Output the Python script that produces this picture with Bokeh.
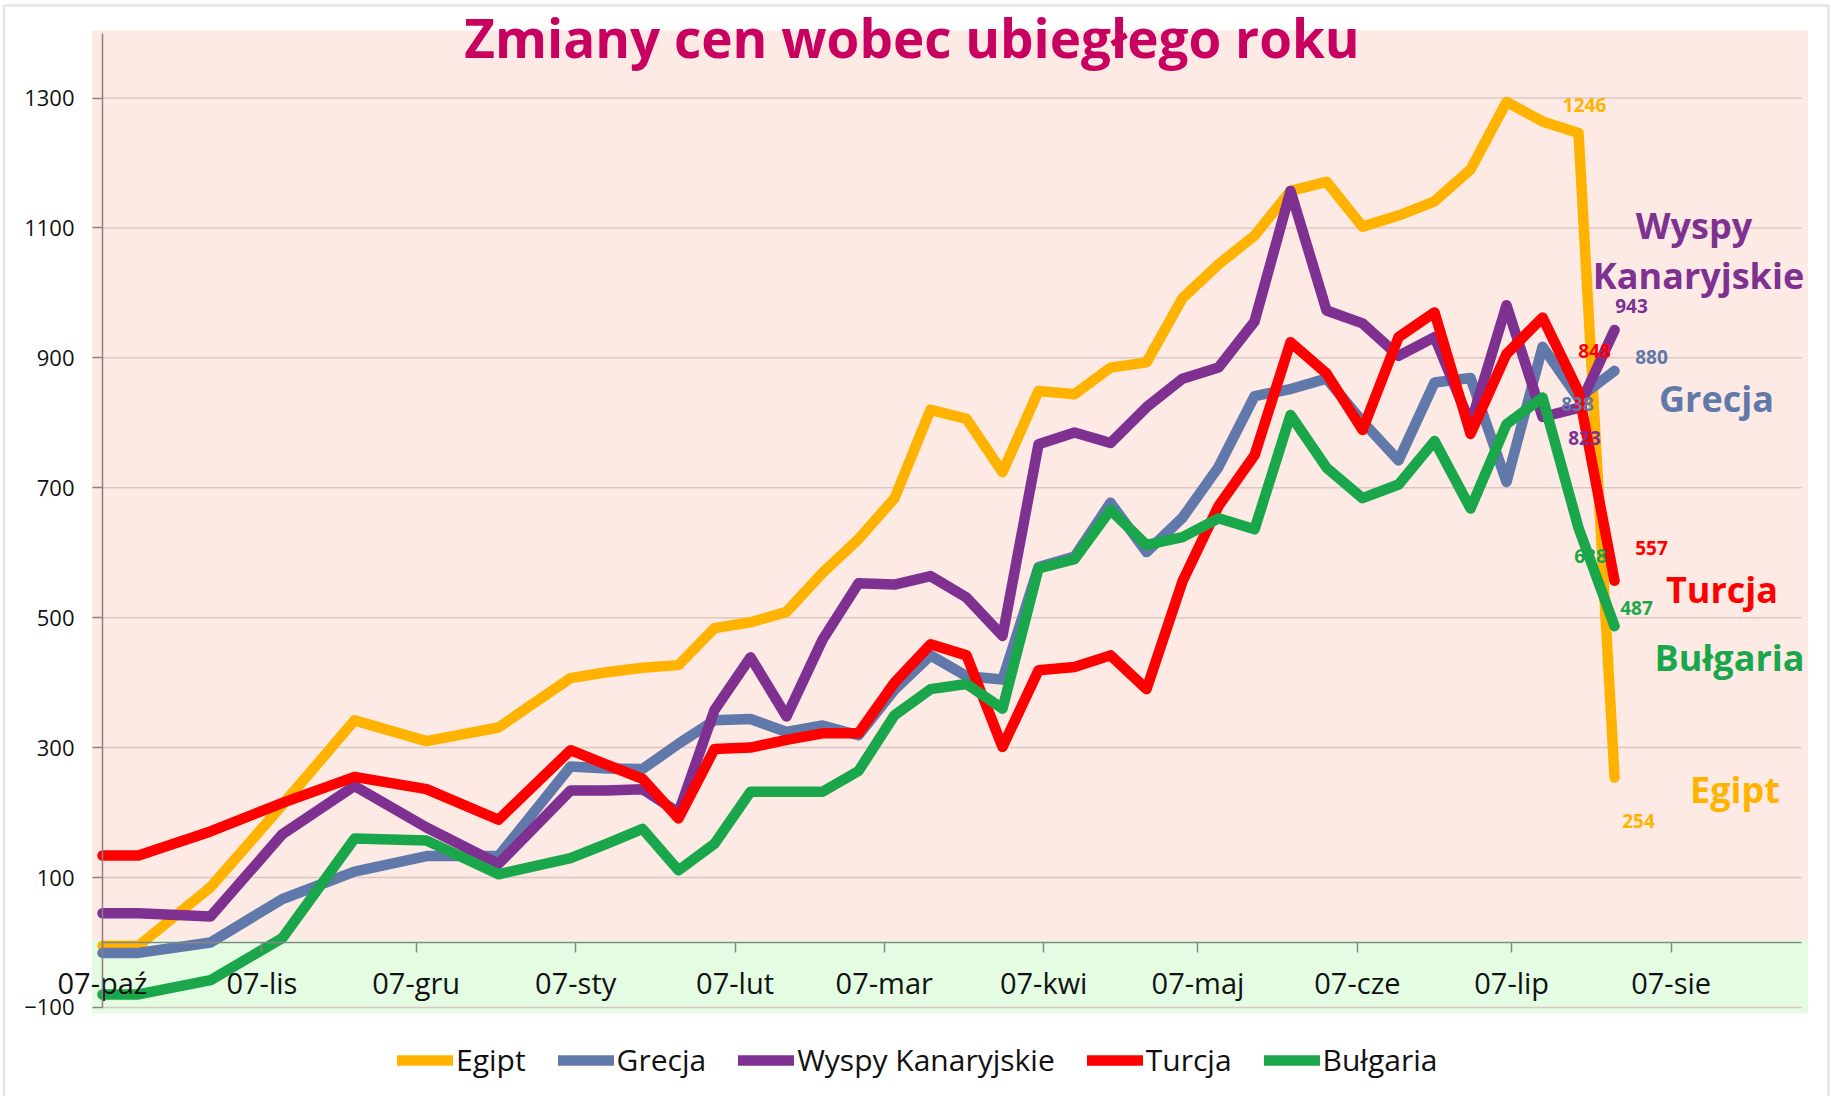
import numpy as np
import pandas as pd
from bokeh.plotting import figure
from bokeh.models import (Range1d, FixedTicker, Label, Legend, LegendItem,
                          BoxAnnotation, LinearAxis)
from bokeh.core.properties import value
from bokeh.embed import file_html
from bokeh.resources import INLINE

# ---------------- data ----------------
# observation index in weeks from the first reading (07-paź-2007); early readings every two weeks
weeks = [0, 1, 3, 5, 7, 9, 11, 13, 14, 15, 16, 17, 18, 19, 20, 21, 22, 23, 24, 25,
         26, 27, 28, 29, 30, 31, 32, 33, 34, 35, 36, 37, 38, 39, 40, 41, 42]

egipt = [-5, -5, 85, 212, 342, 310, 331, 407, 416, 423, 427, 484, 493, 509, 569, 621, 684, 820, 806, 724,
         849, 844, 885, 893, 992, 1044, 1088, 1157, 1171, 1102, 1119, 1141, 1190, 1294, 1264, 1246, 254]
grecja = [-16, -16, 0, 67, 109, 133, 133, 271, 268, 267, 306, 342, 344, 324, 334, 319, 389, 442, 410, 405,
          578, 594, 677, 601, 654, 732, 841, 852, 868, 802, 742, 862, 869, 709, 917, 838, 880]
wyspy = [45, 45, 40, 167, 241, 177, 121, 234, 234, 236, 200, 358, 439, 348, 466, 553, 551, 564, 531, 472,
         767, 785, 769, 824, 868, 885, 956, 1157, 973, 953, 903, 932, 798, 981, 809, 823, 943]
turcja = [134, 134, 171, 215, 255, 236, 189, 296, 274, 252, 191, 298, 300, 312, 322, 322, 400, 459, 442, 301,
          419, 424, 442, 390, 556, 672, 750, 924, 876, 789, 932, 970, 783, 906, 962, 848, 557]
bulgaria = [-80, -80, -58, 7, 160, 157, 105, 130, 152, 175, 111, 152, 232, 232, 232, 264, 350, 390, 398, 360,
            576, 590, 666, 612, 624, 653, 636, 812, 731, 684, 705, 772, 668, 798, 839, 638, 487]

series_names = ["Egipt", "Grecja", "Wyspy Kanaryjskie", "Turcja", "Bułgaria"]
month_labels = ["07-paź", "07-lis", "07-gru", "07-sty", "07-lut", "07-mar",
                "07-kwi", "07-maj", "07-cze", "07-lip", "07-sie"]
y_ticks = [-100, 100, 300, 500, 700, 900, 1100, 1300]
title_text = "Zmiany cen wobec ubiegłego roku"

# ---------------- derived ----------------
start = pd.Timestamp("2007-10-07")
days = [7 * w for w in weeks]                      # x in days since 07-paź-2007
month_dates = pd.date_range(start, periods=len(month_labels), freq=pd.DateOffset(months=1))
month_days = [int((d - start).days) for d in month_dates]

colors = {"Egipt": "#FFB300", "Grecja": "#6078AA", "Wyspy Kanaryjskie": "#7F3192",
          "Turcja": "#FF0000", "Bułgaria": "#1AA64A"}
values = {"Egipt": egipt, "Grecja": grecja, "Wyspy Kanaryjskie": wyspy,
          "Turcja": turcja, "Bułgaria": bulgaria}

FONT = "Open Sans"
W, H = 1831, 1096
X0PX, PXD = 102.0, 5.143        # pixel of day 0, pixels per day
Y0PX, PXU = 942.0, 0.6496       # pixel of value 0, pixels per unit


def dx(px):   # canvas pixel -> day
    return (px - X0PX) / PXD


def vy(py):   # canvas pixel -> value
    return (Y0PX - py) / PXU


p = figure(width=W, height=H, output_backend="svg", toolbar_location=None,
           x_axis_location=None, y_axis_location=None, title=None,
           x_range=Range1d(dx(0), dx(W)), y_range=Range1d(vy(H), vy(0)),
           min_border_left=0, min_border_right=0, min_border_top=0, min_border_bottom=0)
p.background_fill_color = "white"
p.border_fill_color = "white"
p.outline_line_color = None
p.xgrid.visible = False
p.ygrid.visible = False

# plot-area backgrounds
x_left, x_right = dx(91.5), dx(1807.6)
p.quad(left=[x_left], right=[x_right], top=[vy(30)], bottom=[4], fill_color="#FDEAE4", line_color=None)
p.quad(left=[x_left], right=[x_right], top=[4], bottom=[vy(1013)], fill_color="#E3FCE2", line_color=None)

# horizontal gridlines
grid_end = dx(1801)
p.segment(x0=[0] * len(y_ticks), y0=y_ticks, x1=[grid_end] * len(y_ticks), y1=y_ticks,
          line_color="#DCC8C3", line_width=1.5)

# y axis at day 0
yaxis = LinearAxis(fixed_location=0, bounds=(-100, vy(33)), ticker=FixedTicker(ticks=y_ticks))
yaxis.axis_line_color = "#8C7F7F"
yaxis.axis_line_width = 1.5
yaxis.major_tick_in = 0
yaxis.major_tick_out = 10
yaxis.major_tick_line_color = "#8C8080"
yaxis.major_tick_line_width = 1.5
yaxis.minor_tick_line_color = None
yaxis.major_label_text_font = FONT
yaxis.major_label_text_font_size = "22px"
yaxis.major_label_text_color = "#111111"
yaxis.major_label_standoff = 18
p.add_layout(yaxis, "left")

# x axis at value 0
xaxis = LinearAxis(fixed_location=0, bounds=(0, grid_end), ticker=FixedTicker(ticks=month_days),
                   major_label_overrides={d: lab for d, lab in zip(month_days, month_labels)})
xaxis.axis_line_color = "#868686"
xaxis.axis_line_width = 1.5
xaxis.major_tick_in = 0
xaxis.major_tick_out = 10
xaxis.major_tick_line_color = "#868686"
xaxis.major_tick_line_width = 1.5
xaxis.minor_tick_line_color = None
xaxis.major_label_text_font = FONT
xaxis.major_label_text_font_size = "29px"
xaxis.major_label_text_color = "#111111"
xaxis.major_label_standoff = 10
p.add_layout(xaxis, "below")

# lines
renderers = []
for name in series_names:
    r = p.line(days, values[name], line_color=colors[name], line_width=10.5,
               line_join="round", line_cap="round")
    renderers.append(r)

# value labels at the last two readings
label_offsets = {
    "Egipt": [(6, -28), (24, 43)],
    "Grecja": [(-1, 6), (37, -14)],
    "Wyspy Kanaryjskie": [(6, 30), (17, -24)],
    "Turcja": [(16, -41), (37, -33)],
    "Bułgaria": [(12, 28), (22, -18)],
}
for name in series_names:
    vals = values[name]
    for idx, (ox, oy) in zip([-2, -1], label_offsets[name]):
        p.text(x=[days[idx]], y=[vals[idx]], text=[str(vals[idx])], x_offset=ox, y_offset=oy,
               text_font=value(FONT), text_font_style="bold", text_font_size="19px",
               text_color=colors[name], text_align="center", text_baseline="middle")

# series name annotations (screen px from bottom-left of canvas)
name_pos = [("Wyspy", "Wyspy Kanaryjskie", 1693.5, 225),
            ("Kanaryjskie", "Wyspy Kanaryjskie", 1698, 275),
            ("Grecja", "Grecja", 1716, 398),
            ("Turcja", "Turcja", 1721.5, 588.7),
            ("Bułgaria", "Bułgaria", 1729, 657),
            ("Egipt", "Egipt", 1734.5, 788.7)]
for txt, ser, cx, cy in name_pos:
    p.add_layout(Label(x=cx, y=H - cy, x_units="screen", y_units="screen", text=txt,
                       text_font=FONT, text_font_style="bold", text_font_size="36px",
                       text_color=colors[ser], text_align="center", text_baseline="middle"))

# title
p.add_layout(Label(x=911.5, y=H - 37, x_units="screen", y_units="screen", text=title_text,
                   text_font=FONT, text_font_style="bold", text_font_size="53px",
                   text_color="#C8005F", text_align="center", text_baseline="middle"))

# legend below the plot area
legend = Legend(items=[LegendItem(label=n, renderers=[r]) for n, r in zip(series_names, renderers)],
                orientation="horizontal", location=(397, 16),
                glyph_width=56, glyph_height=20, label_standoff=3, spacing=32,
                padding=0, margin=0, border_line_alpha=0, background_fill_alpha=0,
                label_text_font=FONT, label_text_font_size="30px", label_text_color="#111111")
p.add_layout(legend)

# outer chart border
p.add_layout(BoxAnnotation(left=3.6, right=1828, top=H - 5, bottom=-20,
                           left_units="screen", right_units="screen", top_units="screen",
                           bottom_units="screen", fill_alpha=0, line_color="#A6A6A6",
                           line_width=2.5, level="overlay"))

open("out.html", "w").write(file_html(p, INLINE))
